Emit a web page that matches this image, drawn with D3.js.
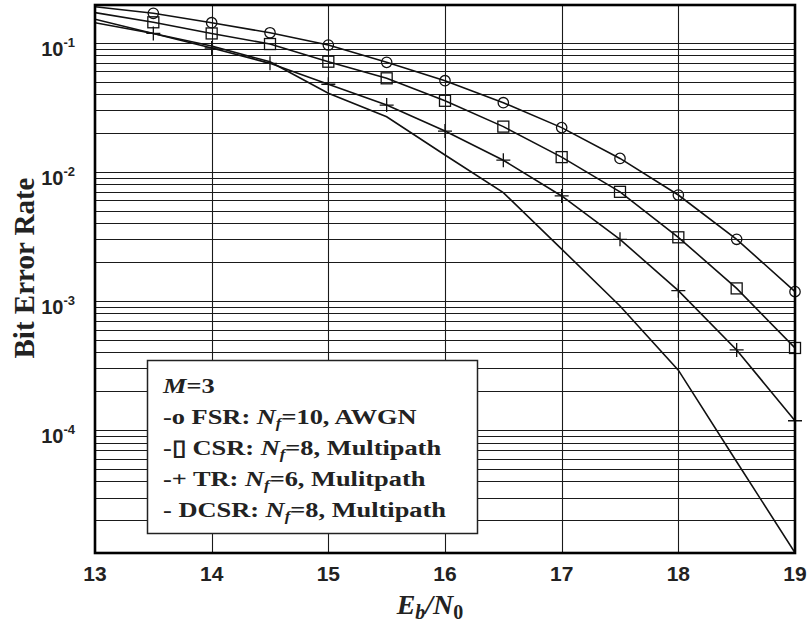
<!DOCTYPE html>
<html>
<head>
<meta charset="utf-8">
<script src="https://cdn.jsdelivr.net/npm/d3@7"></script>
<style>
  body { margin: 0; background: #fff; }
  svg { display: block; }
</style>
</head>
<body>
<div id="chart"></div>
<script>
// Eb/N0 sample points (dB)
const ebn0 = [13, 13.5, 14, 14.5, 15, 15.5, 16, 16.5, 17, 17.5, 18, 18.5, 19];

// bit error rate per scheme
const berFSR  = [0.190, 0.169, 0.143, 0.1195, 0.096, 0.0705, 0.0508, 0.0343, 0.0220, 0.0127, 0.00661, 0.0030, 0.00118];
const berCSR  = [0.171, 0.144, 0.118, 0.0977, 0.0713, 0.0530, 0.0355, 0.0224, 0.0130, 0.0070, 0.00311, 0.00125, 0.000432];
const berTR   = [0.152, 0.118, 0.091, 0.0692, 0.0477, 0.0329, 0.0207, 0.0123, 0.0065, 0.0030, 0.0012, 0.000417, 0.000118];
const berDCSR = [0.143, 0.118, 0.0943, 0.0711, 0.0406, 0.0267, 0.0135, 0.0069, 0.00252, 0.000913, 0.000291, 0.0000568, 0.0000112];

const xTicks = [13, 14, 15, 16, 17, 18, 19];
const yMajor = [1e-1, 1e-2, 1e-3, 1e-4];
const yExp = ["-1", "-2", "-3", "-4"];

const legendTitle = "M";
const legendRows = [
  { mark: "-o FSR: ", nf: "10", tail: ", AWGN" },
  { mark: "-\u25AF CSR: ", nf: "8", tail: ", Multipath" },
  { mark: "-+ TR: ", nf: "6", tail: ", Mulitpath" },
  { mark: "- DCSR: ", nf: "8", tail: ", Multipath" }
];

const SANS = "'Liberation Sans', Arial, Helvetica, sans-serif";
const SERIF = "'Liberation Serif', 'Times New Roman', Times, serif";

const W = 809, H = 627;
const margin = { top: 5, right: 14, bottom: 74, left: 95 };

const svg = d3.select("#chart").append("svg")
    .attr("width", W)
    .attr("height", H);

const x = d3.scaleLinear()
    .domain([13, 19])
    .range([margin.left, W - margin.right]);

const y = d3.scaleLog()
    .domain([1.115e-5, 0.196])
    .range([H - margin.bottom, margin.top]);

// grid lines
var gridY = [];
for (var e = -5; e <= -1; e++) {
    for (var k = 1; k <= 9; k++) {
        var v = k * Math.pow(10, e);
        if (v > y.domain()[0] && v < y.domain()[1]) gridY.push(v);
    }
}

const grid = svg.append("g")
    .attr("stroke", "#1a1a1a")
    .attr("stroke-width", 1.1);

grid.selectAll("line.gy")
    .data(gridY)
    .enter().append("line")
    .attr("class", "gy")
    .attr("x1", x.range()[0]).attr("x2", x.range()[1])
    .attr("y1", d => Math.round(y(d)) + 0.5)
    .attr("y2", d => Math.round(y(d)) + 0.5);

grid.selectAll("line.gx")
    .data(xTicks.slice(1, -1))
    .enter().append("line")
    .attr("class", "gx")
    .attr("y1", y.range()[0]).attr("y2", y.range()[1])
    .attr("x1", d => Math.round(x(d)) + 0.5)
    .attr("x2", d => Math.round(x(d)) + 0.5);

// clip for curves
svg.append("clipPath").attr("id", "plotclip")
  .append("rect")
    .attr("x", x.range()[0]).attr("y", y.range()[1])
    .attr("width", x.range()[1] - x.range()[0])
    .attr("height", y.range()[0] - y.range()[1]);

const series = [
    { name: "FSR", vals: berFSR, marker: "circle" },
    { name: "CSR", vals: berCSR, marker: "square" },
    { name: "TR", vals: berTR, marker: "plus" },
    { name: "DCSR", vals: berDCSR, marker: "none" }
];

const line = d3.line()
    .x(d => x(d[0]))
    .y(d => y(d[1]));

const curves = svg.append("g").attr("clip-path", "url(#plotclip)");

series.forEach(function(s) {
    var pts = ebn0.map((e, i) => [e, s.vals[i]]);
    curves.append("path")
        .datum(pts)
        .attr("fill", "none")
        .attr("stroke", "#111")
        .attr("stroke-width", 1.6)
        .attr("d", line);

    if (s.marker === "none") return;
    var mk = svg.append("g")
        .attr("fill", "none")
        .attr("stroke", "#111")
        .attr("stroke-width", 1.3);
    // first sample (13 dB) carries no marker
    var mpts = pts.slice(1);
    if (s.marker === "circle") {
        mk.selectAll("circle").data(mpts).enter().append("circle")
            .attr("cx", d => x(d[0])).attr("cy", d => y(d[1])).attr("r", 5.2);
    } else if (s.marker === "square") {
        mk.selectAll("rect").data(mpts).enter().append("rect")
            .attr("x", d => x(d[0]) - 5.5).attr("y", d => y(d[1]) - 5.5)
            .attr("width", 11).attr("height", 11);
    } else {
        mk.selectAll("path").data(mpts).enter().append("path")
            .attr("d", d => {
                var cx = x(d[0]), cy = y(d[1]);
                return "M" + (cx - 7) + "," + cy + "H" + (cx + 7) +
                       "M" + cx + "," + (cy - 7) + "V" + (cy + 7);
            });
    }
});

// frame
svg.append("rect")
    .attr("x", x.range()[0]).attr("y", y.range()[1])
    .attr("width", x.range()[1] - x.range()[0])
    .attr("height", y.range()[0] - y.range()[1])
    .attr("fill", "none")
    .attr("stroke", "#000")
    .attr("stroke-width", 2.6);

// x tick labels
svg.append("g").selectAll("text")
    .data(xTicks)
    .enter().append("text")
    .attr("x", d => x(d))
    .attr("y", y.range()[0] + 28)
    .attr("text-anchor", "middle")
    .style("font-family", SANS)
    .attr("font-weight", "bold")
    .attr("font-size", 21)
    .attr("fill", "#222")
    .text(d => d);

// y tick labels 10^n
var yl = svg.append("g").selectAll("text")
    .data(yMajor)
    .enter().append("text")
    .attr("x", 75)
    .attr("y", d => y(d) + 13)
    .attr("text-anchor", "end")
    .style("font-family", SANS)
    .attr("font-weight", "bold")
    .attr("font-size", 20)
    .attr("fill", "#222");
yl.append("tspan").text("10");
yl.append("tspan")
    .attr("font-size", 13)
    .attr("dy", -9)
    .text((d, i) => yExp[i]);

// axis titles
svg.append("text")
    .attr("transform", "translate(34," + 268 + ") rotate(-90)")
    .attr("text-anchor", "middle")
    .style("font-family", SERIF)
    .attr("font-weight", "bold")
    .attr("font-size", 29)
    .attr("fill", "#222")
    .text("Bit Error Rate");

var xt = svg.append("text")
    .attr("x", 430)
    .attr("y", 614)
    .attr("text-anchor", "middle")
    .style("font-family", SERIF)
    .attr("font-weight", "bold")
    .attr("font-style", "italic")
    .attr("font-size", 28)
    .attr("fill", "#222");
xt.append("tspan").text("E");
xt.append("tspan").attr("font-size", 20).attr("dy", 5).text("b");
xt.append("tspan").attr("dy", -5).text("/N");
xt.append("tspan").attr("font-size", 20).attr("font-style", "normal").attr("dy", 5).text("0");

// legend
var lg = svg.append("g");
lg.append("rect")
    .attr("x", 147.5).attr("y", 360.5)
    .attr("width", 330).attr("height", 173)
    .attr("fill", "#fff")
    .attr("stroke", "#222")
    .attr("stroke-width", 1.5);

var lt = lg.append("g")
    .attr("transform", "translate(163,0) scale(1.2,1)")
    .style("font-family", SERIF)
    .attr("font-weight", "bold")
    .attr("font-size", 22)
    .attr("fill", "#222");

var t0 = lt.append("text").attr("x", 0).attr("y", 393);
t0.append("tspan").attr("font-style", "italic").text(legendTitle);
t0.append("tspan").text("=3");

lt.selectAll("text.row")
    .data(legendRows)
    .enter().append("text")
    .attr("class", "row")
    .attr("x", 0)
    .attr("y", (d, i) => 424 + i * 31)
    .each(function(d) {
        var t = d3.select(this);
        t.append("tspan").text(d.mark);
        t.append("tspan").attr("font-style", "italic").text("N");
        t.append("tspan").attr("font-style", "italic").attr("font-size", 14).attr("dy", 4).text("f");
        t.append("tspan").attr("dy", -4).text("=" + d.nf + d.tail);
    });
</script>
</body>
</html>
